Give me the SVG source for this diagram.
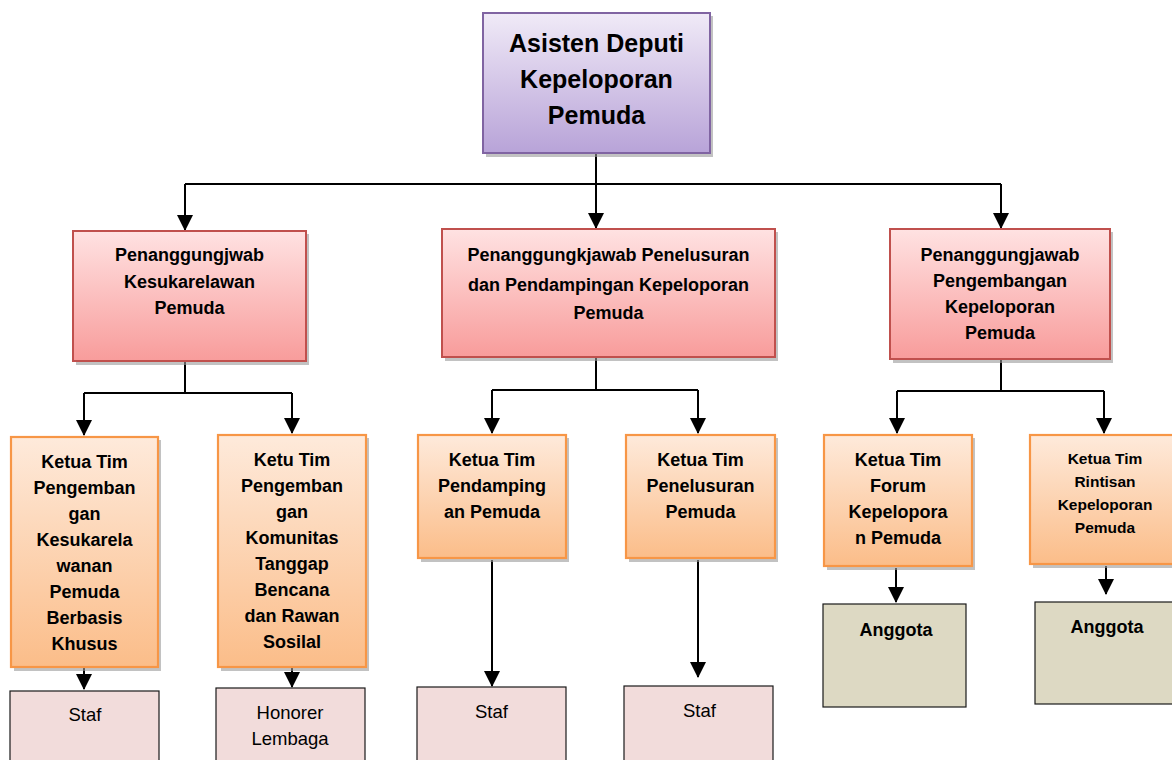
<svg xmlns="http://www.w3.org/2000/svg" width="1172" height="760" viewBox="0 0 1172 760">
<defs>
<linearGradient id="gPurple" x1="0" y1="0" x2="0" y2="1">
<stop offset="0" stop-color="#F0EAF7"/><stop offset="1" stop-color="#B8A3D8"/>
</linearGradient>
<linearGradient id="gRed" x1="0" y1="0" x2="0" y2="1">
<stop offset="0" stop-color="#FFE2E2"/><stop offset="1" stop-color="#F89C9B"/>
</linearGradient>
<linearGradient id="gOrange" x1="0" y1="0" x2="0" y2="1">
<stop offset="0" stop-color="#FEEADB"/><stop offset="1" stop-color="#FBBD89"/>
</linearGradient>
<marker id="arr" viewBox="0 0 16 16" markerWidth="16" markerHeight="16" refX="15" refY="8" orient="auto" markerUnits="userSpaceOnUse">
<path d="M0,0 L16,8 L0,16 Z" fill="#000"/>
</marker>
</defs>
<style>
.sh{fill:#9A9A9A;opacity:0.6}
.purple{fill:url(#gPurple);stroke:#8064A2;stroke-width:2}
.red{fill:url(#gRed);stroke:#C0504D;stroke-width:2}
.orange{fill:url(#gOrange);stroke:#F79646;stroke-width:2.2}
.staf{fill:#F2DCDB;stroke:#1A1A1A;stroke-width:1.2}
.angg{fill:#DDD9C3;stroke:#1A1A1A;stroke-width:1.2}
text{font-family:"Liberation Sans",Arial,sans-serif;fill:#000;text-anchor:middle}
.b{font-weight:bold;font-size:18px}
.t{font-weight:bold;font-size:25px}
.s{font-weight:bold;font-size:15.5px}
.n{font-size:18.5px}
.ln{fill:none;stroke:#000;stroke-width:2}
.ar{fill:none;stroke:#000;stroke-width:2;marker-end:url(#arr)}
</style>

<g id="connectors">
<path class="ln" d="M596,153 V184 M185,184 H1001"/>
<path class="ar" d="M185,184 V230"/>
<path class="ar" d="M596,184 V228"/>
<path class="ar" d="M1001,184 V228"/>
<path class="ln" d="M185,361 V393 M84,393 H292"/>
<path class="ar" d="M84,393 V435"/>
<path class="ar" d="M292,393 V433"/>
<path class="ln" d="M596,357 V390 M492,390 H698"/>
<path class="ar" d="M492,390 V433"/>
<path class="ar" d="M698,390 V433"/>
<path class="ln" d="M1001,359 V391 M897,391 H1104"/>
<path class="ar" d="M897,391 V433"/>
<path class="ar" d="M1104,391 V433"/>
<path class="ar" d="M84,668 V689"/>
<path class="ar" d="M292,668 V687"/>
<path class="ar" d="M492,560 V686"/>
<path class="ar" d="M698,560 V677"/>
<path class="ar" d="M896,568 V602"/>
<path class="ar" d="M1106,566 V594"/>
</g>

<g id="asdep">
<rect class="sh" x="486" y="16" width="227" height="141"/>
<rect class="purple" x="483" y="13" width="227" height="140"/>
<text class="t" x="596.5" y="52">Asisten Deputi</text>
<text class="t" x="596.5" y="88">Kepeloporan</text>
<text class="t" x="596.5" y="124">Pemuda</text>
</g>

<g id="pj-kesukarelawan">
<rect class="sh" x="76" y="234" width="233" height="131"/>
<rect class="red" x="73" y="231" width="233" height="130"/>
<text class="b" x="189.5" y="261">Penanggungjwab</text>
<text class="b" x="189.5" y="288">Kesukarelawan</text>
<text class="b" x="189.5" y="314">Pemuda</text>
</g>

<g id="pj-penelusuran">
<rect class="sh" x="445" y="232" width="333" height="129"/>
<rect class="red" x="442" y="229" width="333" height="128"/>
<text class="b" x="608.5" y="261">Penanggungkjawab Penelusuran</text>
<text class="b" x="608.5" y="291">dan Pendampingan Kepeloporan</text>
<text class="b" x="608.5" y="319">Pemuda</text>
</g>

<g id="pj-pengembangan">
<rect class="sh" x="893" y="232" width="220" height="131"/>
<rect class="red" x="890" y="229" width="220" height="130"/>
<text class="b" x="1000" y="261">Penanggungjawab</text>
<text class="b" x="1000" y="287">Pengembangan</text>
<text class="b" x="1000" y="313">Kepeloporan</text>
<text class="b" x="1000" y="339">Pemuda</text>
</g>

<g id="kt-kesukarelawanan">
<rect class="sh" x="14" y="440" width="147" height="231"/>
<rect class="orange" x="11" y="437" width="147" height="230"/>
<text class="b" x="84.5" y="468">Ketua Tim</text>
<text class="b" x="84.5" y="494">Pengemban</text>
<text class="b" x="84.5" y="520">gan</text>
<text class="b" x="84.5" y="546">Kesukarela</text>
<text class="b" x="84.5" y="572">wanan</text>
<text class="b" x="84.5" y="598">Pemuda</text>
<text class="b" x="84.5" y="624">Berbasis</text>
<text class="b" x="84.5" y="650">Khusus</text>
</g>

<g id="kt-komunitas">
<rect class="sh" x="221" y="438" width="148" height="233"/>
<rect class="orange" x="218" y="435" width="148" height="232"/>
<text class="b" x="292" y="466">Ketu Tim</text>
<text class="b" x="292" y="492">Pengemban</text>
<text class="b" x="292" y="518">gan</text>
<text class="b" x="292" y="544">Komunitas</text>
<text class="b" x="292" y="570">Tanggap</text>
<text class="b" x="292" y="596">Bencana</text>
<text class="b" x="292" y="622">dan Rawan</text>
<text class="b" x="292" y="648">Sosilal</text>
</g>

<g id="kt-pendampingan">
<rect class="sh" x="421" y="438" width="148" height="124"/>
<rect class="orange" x="418" y="435" width="148" height="123"/>
<text class="b" x="492" y="466">Ketua Tim</text>
<text class="b" x="492" y="492">Pendamping</text>
<text class="b" x="492" y="518">an Pemuda</text>
</g>

<g id="kt-penelusuran">
<rect class="sh" x="629" y="438" width="149" height="124"/>
<rect class="orange" x="626" y="435" width="149" height="123"/>
<text class="b" x="700.5" y="466">Ketua Tim</text>
<text class="b" x="700.5" y="492">Penelusuran</text>
<text class="b" x="700.5" y="518">Pemuda</text>
</g>

<g id="kt-forum">
<rect class="sh" x="827" y="438" width="148" height="132"/>
<rect class="orange" x="824" y="435" width="148" height="131"/>
<text class="b" x="898" y="466">Ketua Tim</text>
<text class="b" x="898" y="492">Forum</text>
<text class="b" x="898" y="518">Kepelopora</text>
<text class="b" x="898" y="544">n Pemuda</text>
</g>

<g id="kt-rintisan">
<rect class="sh" x="1033" y="438" width="148" height="130"/>
<rect class="orange" x="1030" y="435" width="148" height="129"/>
<text class="s" x="1105" y="464">Ketua Tim</text>
<text class="s" x="1105" y="487">Rintisan</text>
<text class="s" x="1105" y="510">Kepeloporan</text>
<text class="s" x="1105" y="533">Pemuda</text>
</g>

<g id="staf-1">
<rect class="staf" x="10" y="691" width="149" height="80"/>
<text class="n" x="85" y="721">Staf</text>
</g>

<g id="honorer">
<rect class="staf" x="216" y="688" width="149" height="80"/>
<text class="n" x="290" y="719">Honorer</text>
<text class="n" x="290" y="745">Lembaga</text>
</g>

<g id="staf-2">
<rect class="staf" x="417" y="687" width="149" height="80"/>
<text class="n" x="491.5" y="718">Staf</text>
</g>

<g id="staf-3">
<rect class="staf" x="624" y="686" width="149" height="80"/>
<text class="n" x="699.5" y="717">Staf</text>
</g>

<g id="anggota-1">
<rect class="angg" x="823" y="604" width="143" height="103"/>
<text class="b" x="896" y="636">Anggota</text>
</g>

<g id="anggota-2">
<rect class="angg" x="1035" y="602" width="145" height="102"/>
<text class="b" x="1107" y="633">Anggota</text>
</g>
</svg>
